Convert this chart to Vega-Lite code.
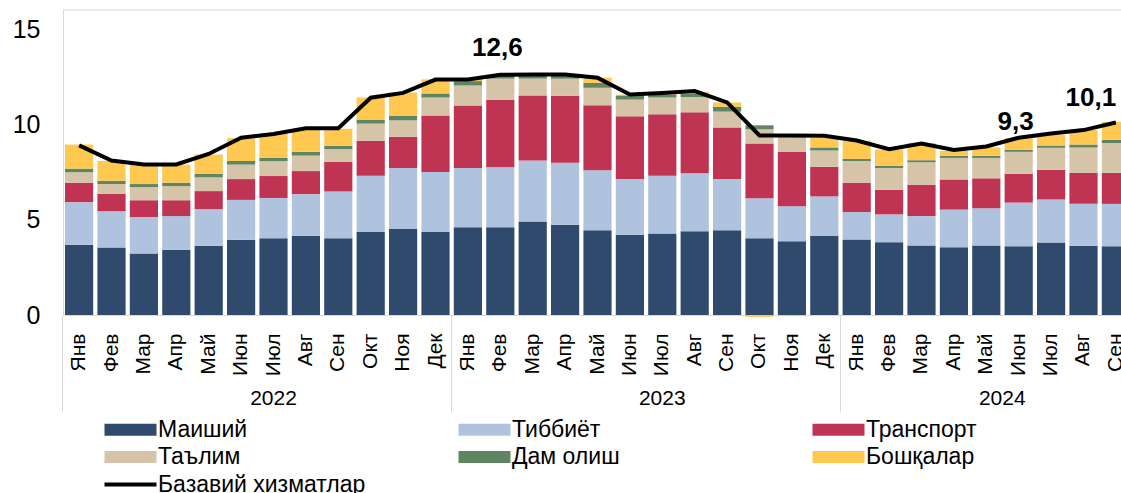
{
  "$schema": "https://vega.github.io/schema/vega-lite/v6.json",
  "width": 1058,
  "height": 305,
  "autosize": {"type": "none"},
  "padding": {"left": 63, "top": 10, "right": 0, "bottom": 178},
  "config": {
    "font": "Liberation Sans",
    "view": {"stroke": null},
    "locale": {"number": {"decimal": ",", "thousands": " ", "grouping": [3], "currency": ["", ""]}},
    "axis": {"labelFont": "Liberation Sans", "labelColor": "#000000", "title": null, "grid": false},
    "legend": {
      "orient": "none", "legendX": 40, "legendY": 408, "columns": 3, "direction": "horizontal", "gridAlign": "all",
      "columnPadding": 91, "rowPadding": 3.5, "symbolSize": 400, "symbolOffset": 16,
      "labelOffset": 16, "labelFontSize": 23, "labelFont": "Liberation Sans", "labelColor": "#000000",
      "padding": 0, "symbolStrokeWidth": 0, "labelLimit": 400
    }
  },
  "data": {
    "values": [
      {"m": "2022-01", "Маиший": 3.68, "Тиббиёт": 2.24, "Транспорт": 1.02, "Таълим": 0.55, "Дам олиш": 0.19, "Бошқалар": 1.26, "base": 8.9},
      {"m": "2022-02", "Маиший": 3.54, "Тиббиёт": 1.90, "Транспорт": 0.92, "Таълим": 0.51, "Дам олиш": 0.17, "Бошқалар": 1.04, "base": 8.1},
      {"m": "2022-03", "Маиший": 3.22, "Тиббиёт": 1.92, "Транспорт": 0.88, "Таълим": 0.69, "Дам олиш": 0.16, "Бошқалар": 1.02, "base": 7.9},
      {"m": "2022-04", "Маиший": 3.42, "Тиббиёт": 1.77, "Транспорт": 0.83, "Таълим": 0.74, "Дам олиш": 0.18, "Бошқалар": 0.95, "base": 7.9},
      {"m": "2022-05", "Маиший": 3.63, "Тиббиёт": 1.92, "Транспорт": 0.95, "Таълим": 0.72, "Дам олиш": 0.18, "Бошқалар": 1.02, "base": 8.45},
      {"m": "2022-06", "Маиший": 3.95, "Тиббиёт": 2.09, "Транспорт": 1.09, "Таълим": 0.76, "Дам олиш": 0.19, "Бошқалар": 1.20, "base": 9.3},
      {"m": "2022-07", "Маиший": 4.03, "Тиббиёт": 2.11, "Транспорт": 1.15, "Таълим": 0.78, "Дам олиш": 0.17, "Бошқалар": 1.27, "base": 9.5},
      {"m": "2022-08", "Маиший": 4.16, "Тиббиёт": 2.18, "Транспорт": 1.21, "Таълим": 0.81, "Дам олиш": 0.20, "Бошқалар": 1.20, "base": 9.8},
      {"m": "2022-09", "Маиший": 4.03, "Тиббиёт": 2.45, "Транспорт": 1.55, "Таълим": 0.67, "Дам олиш": 0.17, "Бошқалар": 0.90, "base": 9.8},
      {"m": "2022-10", "Маиший": 4.35, "Тиббиёт": 2.96, "Транспорт": 1.83, "Таълим": 0.90, "Дам олиш": 0.21, "Бошқалар": 1.16, "base": 11.4},
      {"m": "2022-11", "Маиший": 4.51, "Тиббиёт": 3.20, "Транспорт": 1.64, "Таълим": 0.86, "Дам олиш": 0.25, "Бошқалар": 1.21, "base": 11.65},
      {"m": "2022-12", "Маиший": 4.35, "Тиббиёт": 3.15, "Транспорт": 2.96, "Таълим": 0.95, "Дам олиш": 0.21, "Бошқалар": 0.74, "base": 12.35},
      {"m": "2023-01", "Маиший": 4.60, "Тиббиёт": 3.11, "Транспорт": 3.28, "Таълим": 1.05, "Дам олиш": 0.23, "Бошқалар": 0.09, "base": 12.36},
      {"m": "2023-02", "Маиший": 4.60, "Тиббиёт": 3.15, "Транспорт": 3.54, "Таълим": 1.11, "Дам олиш": 0.16, "Бошқалар": 0.04, "base": 12.6},
      {"m": "2023-03", "Маиший": 4.91, "Тиббиёт": 3.19, "Транспорт": 3.42, "Таълим": 0.88, "Дам олиш": 0.19, "Бошқалар": 0.02, "base": 12.62},
      {"m": "2023-04", "Маиший": 4.74, "Тиббиёт": 3.25, "Транспорт": 3.51, "Таълим": 0.90, "Дам олиш": 0.20, "Бошқалар": 0.01, "base": 12.62},
      {"m": "2023-05", "Маиший": 4.44, "Тиббиёт": 3.15, "Транспорт": 3.41, "Таълим": 0.92, "Дам олиш": 0.25, "Бошқалар": 0.28, "base": 12.45},
      {"m": "2023-06", "Маиший": 4.21, "Тиббиёт": 2.92, "Транспорт": 3.29, "Таълим": 0.88, "Дам олиш": 0.22, "Бошқалар": 0.04, "base": 11.57},
      {"m": "2023-07", "Маиший": 4.28, "Тиббиёт": 3.03, "Транспорт": 3.22, "Таълим": 0.88, "Дам олиш": 0.16, "Бошқалар": 0.05, "base": 11.65},
      {"m": "2023-08", "Маиший": 4.40, "Тиббиёт": 3.03, "Транспорт": 3.20, "Таълим": 0.80, "Дам олиш": 0.19, "Бошқалар": 0.09, "base": 11.75},
      {"m": "2023-09", "Маиший": 4.45, "Тиббиёт": 2.68, "Транспорт": 2.71, "Таълим": 0.83, "Дам олиш": 0.26, "Бошқалар": 0.22, "base": 11.15},
      {"m": "2023-10", "Маиший": 4.03, "Тиббиёт": 2.10, "Транспорт": 2.87, "Таълим": 0.74, "Дам олиш": 0.21, "Бошқалар": -0.10, "base": 9.42},
      {"m": "2023-11", "Маиший": 3.87, "Тиббиёт": 1.84, "Транспорт": 2.85, "Таълим": 0.75, "Дам олиш": 0.02, "Бошқалар": -0.06, "base": 9.42},
      {"m": "2023-12", "Маиший": 4.14, "Тиббиёт": 2.08, "Транспорт": 1.55, "Таълим": 0.86, "Дам олиш": 0.16, "Бошқалар": 0.51, "base": 9.4},
      {"m": "2024-01", "Маиший": 3.96, "Тиббиёт": 1.44, "Транспорт": 1.54, "Таълим": 1.14, "Дам олиш": 0.11, "Бошқалар": 0.95, "base": 9.15},
      {"m": "2024-02", "Маиший": 3.82, "Тиббиёт": 1.46, "Транспорт": 1.29, "Таълим": 1.14, "Дам олиш": 0.12, "Бошқалар": 0.85, "base": 8.7},
      {"m": "2024-03", "Маиший": 3.65, "Тиббиёт": 1.54, "Транспорт": 1.64, "Таълим": 1.18, "Дам олиш": 0.11, "Бошқалар": 0.91, "base": 9.0},
      {"m": "2024-04", "Маиший": 3.56, "Тиббиёт": 1.97, "Транспорт": 1.58, "Таълим": 1.13, "Дам олиш": 0.11, "Бошқалар": 0.26, "base": 8.66},
      {"m": "2024-05", "Маиший": 3.65, "Тиббиёт": 1.95, "Транспорт": 1.57, "Таълим": 1.07, "Дам олиш": 0.11, "Бошқалар": 0.44, "base": 8.84},
      {"m": "2024-06", "Маиший": 3.61, "Тиббиёт": 2.29, "Транспорт": 1.51, "Таълим": 1.15, "Дам олиш": 0.10, "Бошқалар": 0.62, "base": 9.3},
      {"m": "2024-07", "Маиший": 3.80, "Тиббиёт": 2.26, "Транспорт": 1.56, "Таълим": 1.15, "Дам олиш": 0.12, "Бошқалар": 0.57, "base": 9.52},
      {"m": "2024-08", "Маиший": 3.63, "Тиббиёт": 2.20, "Транспорт": 1.63, "Таълим": 1.33, "Дам олиш": 0.15, "Бошқалар": 0.76, "base": 9.7},
      {"m": "2024-09", "Маиший": 3.61, "Тиббиёт": 2.22, "Транспорт": 1.63, "Таълим": 1.56, "Дам олиш": 0.17, "Бошқалар": 0.94, "base": 10.1}
    ]
  },
  "layer": [
    {
      "data": {"values": [{}]},
      "mark": {"type": "rule", "color": "#D9D9D9", "strokeWidth": 1},
      "encoding": {"y": {"datum": 16, "type": "quantitative", "title": null}}
    },
    {
      "transform": [
        {"fold": ["Маиший", "Тиббиёт", "Транспорт", "Таълим", "Дам олиш", "Бошқалар"], "as": ["cat", "val"]},
        {"calculate": "indexof(['Маиший','Тиббиёт','Транспорт','Таълим','Дам олиш','Бошқалар'], datum.cat)", "as": "ord"}
      ],
      "mark": {"type": "bar"},
      "encoding": {
        "x": {
          "field": "m", "type": "ordinal", "title": null,
          "scale": {"range": [0, 1069], "paddingInner": 0.13, "paddingOuter": 0.062},
          "axis": {
            "orient": "bottom",
            "labelExpr": "['Янв','Фев','Мар','Апр','Май','Июн','Июл','Авг','Сен','Окт','Ноя','Дек'][toNumber(slice(datum.value,5,7))-1]",
            "labelAngle": -90, "labelAlign": "right", "labelBaseline": "middle",
            "labelPadding": 18, "ticks": false, "domain": true, "domainColor": "#D9D9D9", "domainWidth": 1,
            "labelFontSize": 21, "labelOverlap": false, "labelBound": false, "labelFlush": false
          }
        },
        "y": {
          "field": "val", "type": "quantitative", "stack": "zero", "title": null,
          "scale": {"domain": [0, 16], "nice": false},
          "axis": {"values": [0, 5, 10, 15], "ticks": false, "domainColor": "#D9D9D9", "domainWidth": 1, "labelFontSize": 25, "labelPadding": 23, "format": "d"}
        },
        "color": {
          "field": "cat", "type": "nominal",
          "scale": {
            "domain": ["Маиший", "Тиббиёт", "Транспорт", "Таълим", "Дам олиш", "Бошқалар", "Базавий хизматлар"],
            "range": ["#2F4A6D", "#B0C3DE", "#BF3353", "#D6C4A9", "#608563", "#FFC851", "#000000"]
          },
          "legend": {
            "title": null,
            "encode": {
              "symbols": {
                "update": {
                  "shape": {"signal": "datum.value === 'Базавий хизматлар' ? 'M-2.6,-0.2H2.6V0.2H-2.6Z' : 'M-2.6,-0.6H2.6V0.6H-2.6Z'"},
                  "fill": {"scale": "color", "field": "value"},
                  "stroke": {"value": "transparent"},
                  "strokeWidth": {"value": 0},
                  "opacity": {"value": 1}
                }
              }
            }
          }
        },
        "order": {"field": "ord", "type": "quantitative"}
      }
    },
    {
      "mark": {"type": "line", "strokeWidth": 4},
      "encoding": {
        "x": {
          "field": "m", "type": "ordinal", "title": null,
          "axis": {
            "orient": "bottom",
            "values": ["2022-01", "2022-07", "2023-01", "2023-07", "2024-01", "2024-05"],
            "labelExpr": "datum.value === '2022-07' ? '2022' : datum.value === '2023-07' ? '2023' : datum.value === '2024-05' ? '2024' : ''",
            "bandPosition": -0.075,
            "domain": false,
            "ticks": true, "tickSize": 97, "tickColor": "#D9D9D9", "tickWidth": 1,
            "tickOpacity": {"condition": {"test": "slice(datum.value,5,7) === '01'", "value": 1}, "value": 0},
            "labelOffset": {"condition": {"test": "datum.value === '2024-05'", "value": 16}, "value": 0},
            "labelPadding": -25, "labelAngle": 0, "labelAlign": "center", "labelBaseline": "top",
            "labelFontSize": 21, "labelOverlap": false, "labelBound": false, "labelFlush": false
          }
        },
        "y": {"field": "base", "type": "quantitative", "title": null},
        "color": {"datum": "Базавий хизматлар"}
      }
    },
    {
      "transform": [{"filter": "datum.m === '2023-02'"}],
      "mark": {"type": "text", "fontSize": 26, "fontWeight": "bold", "dy": -27, "dx": -3, "baseline": "middle", "color": "#000000"},
      "encoding": {
        "x": {"field": "m", "type": "ordinal", "axis": null},
        "y": {"field": "base", "type": "quantitative", "title": null},
        "text": {"field": "base", "type": "quantitative", "format": ".1f"}
      }
    },
    {
      "transform": [{"filter": "datum.m === '2024-06'"}],
      "mark": {"type": "text", "fontSize": 26, "fontWeight": "bold", "dy": -16, "dx": -3, "baseline": "middle", "color": "#000000"},
      "encoding": {
        "x": {"field": "m", "type": "ordinal", "axis": null},
        "y": {"field": "base", "type": "quantitative", "title": null},
        "text": {"field": "base", "type": "quantitative", "format": ".1f"}
      }
    },
    {
      "transform": [{"filter": "datum.m === '2024-09'"}],
      "mark": {"type": "text", "fontSize": 26, "fontWeight": "bold", "dy": -24, "dx": -25, "baseline": "middle", "color": "#000000"},
      "encoding": {
        "x": {"field": "m", "type": "ordinal", "axis": null},
        "y": {"field": "base", "type": "quantitative", "title": null},
        "text": {"field": "base", "type": "quantitative", "format": ".1f"}
      }
    }
  ],
  "resolve": {"axis": {"x": "independent"}}
}
